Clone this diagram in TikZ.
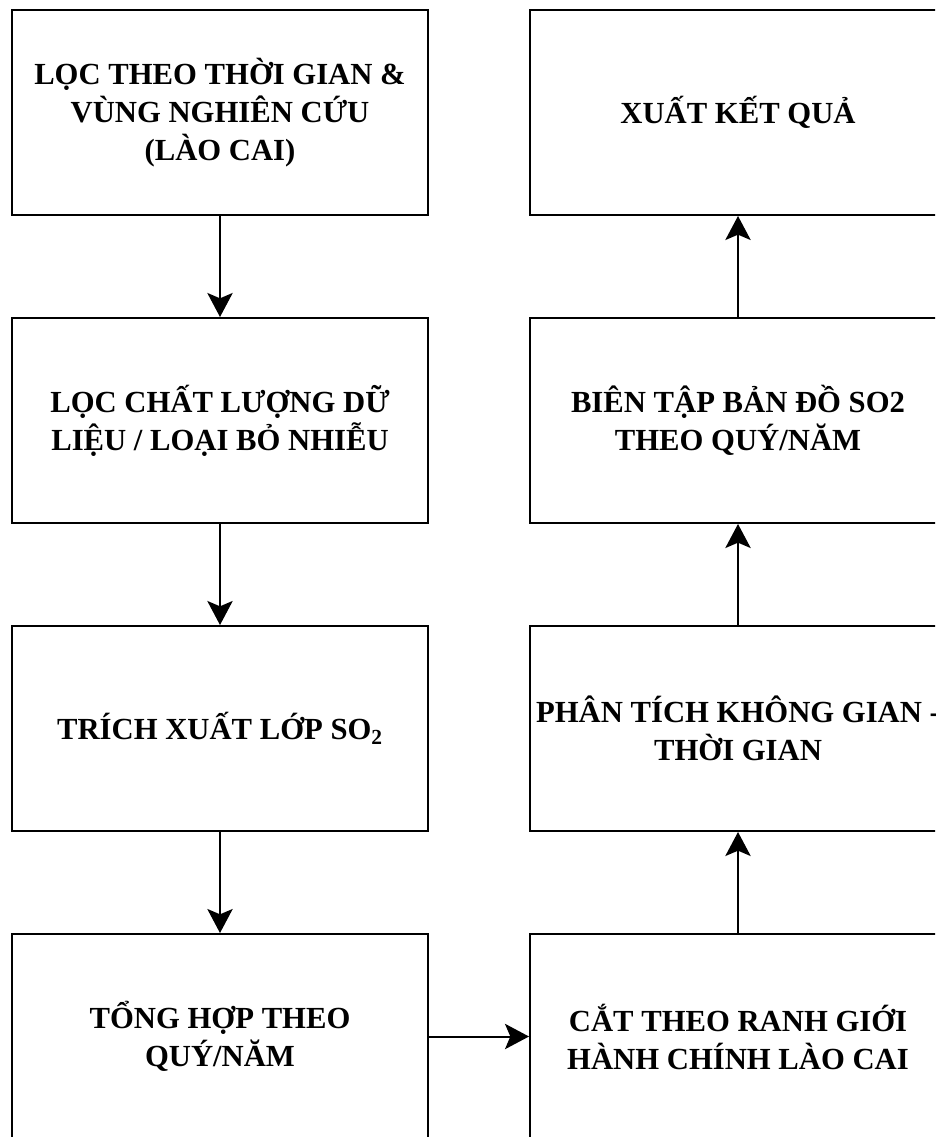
\documentclass[tikz,border=0pt]{standalone}
\usepackage{fontspec}
\setmainfont{Liberation Serif}
\usetikzlibrary{arrows.meta}
\tikzset{
  stepbox/.style={draw=black, line width=1.5pt, fill=white, minimum width=312pt, minimum height=153.75pt,
    align=center, font=\fontsize{23pt}{28.5pt}\selectfont\bfseries, inner sep=0pt},
  flow/.style={draw=black, line width=1.5pt, -{Stealth[length=18pt,width=19pt,inset=4pt]}}
}
\begin{document}
\begin{tikzpicture}[x=0.75pt,y=-0.75pt]
\useasboundingbox (0,0) rectangle (935,1137);
\clip (0,0) rectangle (935,1137);
\fill[white] (0,0) rectangle (935,1137);
\node[stepbox] (a) at (220,112.5) {LỌC THEO THỜI GIAN \&\\VÙNG NGHIÊN CỨU\\(LÀO CAI)};
\node[stepbox] (b) at (220,420.5) {LỌC CHẤT LƯỢNG DỮ\\LIỆU / LOẠI BỎ NHIỄU};
\node[stepbox] (c) at (220,728.5) {TRÍCH XUẤT LỚP SO\textsubscript{2}};
\node[stepbox] (d) at (220,1036.5) {TỔNG HỢP THEO\\QUÝ/NĂM};
\node[stepbox] (e) at (738,1036.5) {CẮT THEO RANH GIỚI\\HÀNH CHÍNH LÀO CAI};
\node[stepbox] (f) at (738,728.5) {PHÂN TÍCH KHÔNG GIAN -\\THỜI GIAN};
\node[stepbox] (g) at (738,420.5) {BIÊN TẬP BẢN ĐỒ SO2\\THEO QUÝ/NĂM};
\node[stepbox] (h) at (738,112.5) {XUẤT KẾT QUẢ};
\draw[flow] (a) -- (b);
\draw[flow] (b) -- (c);
\draw[flow] (c) -- (d);
\draw[flow] (d) -- (e);
\draw[flow] (e) -- (f);
\draw[flow] (f) -- (g);
\draw[flow] (g) -- (h);
\end{tikzpicture}
\end{document}
